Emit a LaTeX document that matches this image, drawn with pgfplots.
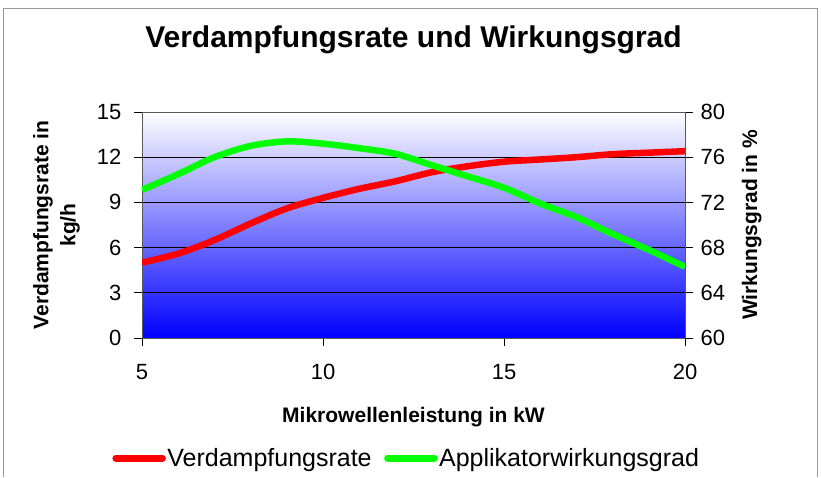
\documentclass[border=0pt]{standalone}
\usepackage{fontspec}
\setmainfont{Liberation Sans}
\usepackage{pgfplots}
\usepackage{pgfplotstable}
\pgfplotsset{compat=1.18}
\pgfplotstableread{
x r g
5 5.0 73.1
6 5.6 74.5
7 6.5 76.0
8 7.6 77.0
9 8.6 77.4
10 9.3 77.2
11 9.9 76.8
12 10.4 76.3
13 11.0 75.3
14 11.4 74.3
15 11.7 73.3
16 11.85 71.9
17 12.0 70.7
18 12.2 69.2
19 12.3 67.8
20 12.4 66.3
}\data
\begin{document}
\begin{tikzpicture}
\useasboundingbox (0pt,0pt) rectangle (821pt,477pt);
\draw[gray!80, line width=1pt] (3pt,0pt) -- (3pt,468pt) -- (817pt,468pt) -- (817pt,0pt);
\begin{axis}[at={(142pt,139pt)}, anchor=south west, scale only axis,
  width=543pt, height=226pt,
  xmin=5, xmax=20, ymin=0, ymax=15,
  xtick={5,10,15,20}, ytick={0,3,...,15},
  xtick pos=bottom, ytick pos=left,
  ymajorgrids, grid style={black, line width=0.8pt},
  axis background/.style={shade, top color=white, bottom color=blue},
  axis line style={gray!70!black, line width=1pt},
  tick style={black, line width=0.8pt},
  tick align=outside, major tick length=8pt,
  /pgf/number format/assume math mode=true,
  ticklabel style={font=\fontsize{22}{26}\selectfont},
  xticklabel style={yshift=-15pt},
  yticklabel style={xshift=-9pt},
  title={Verdampfungsrate und Wirkungsgrad},
  title style={at={(axis description cs:0.5,1.261)}, anchor=base, font=\fontsize{30}{35}\selectfont\bfseries},
  xlabel={Mikrowellenleistung in kW},
  xlabel style={at={(axis description cs:0.5,-0.372)}, anchor=base, font=\fontsize{21}{25}\selectfont\bfseries},
  ylabel={Verdampfungsrate in\\kg/h},
  ylabel style={at={(axis description cs:-0.1575,0.5)}, anchor=center, align=center, font=\fontsize{21}{27}\selectfont\bfseries},
  legend columns=2,
  legend style={at={(axis description cs:0.487,-0.531)}, anchor=center, draw=none, fill=none,
    font=\fontsize{25}{29}\selectfont, inner sep=0pt,
    /tikz/every odd column/.append style={column sep=0pt},
    /tikz/every even column/.append style={column sep=11pt},
    nodes={inner sep=1.5pt}},
  legend image code/.code={\draw[#1, line width=7pt, line cap=round] (3.5pt,0pt) -- (50pt,0pt);},
]
\addplot[red, line width=6.5pt, smooth, no markers] table[x=x, y=r] {\data};
\addlegendentry{Verdampfungsrate}
\addlegendimage{color={rgb,255:red,0;green,255;blue,0}, line width=6.5pt}
\addlegendentry{Applikatorwirkungsgrad}
\end{axis}
\begin{axis}[at={(142pt,139pt)}, anchor=south west, scale only axis,
  width=543pt, height=226pt,
  xmin=5, xmax=20, ymin=60, ymax=80,
  axis x line=none, axis y line*=right,
  ytick={60,64,...,80},
  axis line style={gray!70!black, line width=1pt},
  tick style={black, line width=0.8pt},
  tick align=outside, major tick length=8pt,
  /pgf/number format/assume math mode=true,
  ticklabel style={font=\fontsize{22}{26}\selectfont},
  yticklabel style={xshift=4pt},
  ylabel={Wirkungsgrad in \%},
  ylabel style={at={(axis description cs:1.123,0.5)}, anchor=center, font=\fontsize{21}{25}\selectfont\bfseries},
]
\addplot[color={rgb,255:red,0;green,255;blue,0}, line width=6.5pt, smooth, no markers] table[x=x, y=g] {\data};
\end{axis}
\end{tikzpicture}
\end{document}
